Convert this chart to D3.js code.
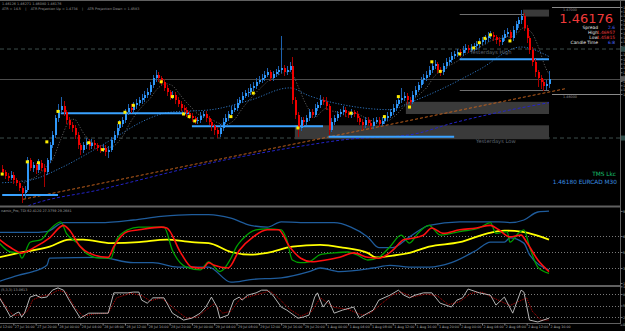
<!DOCTYPE html>
<html>
<head>
<meta charset="utf-8">
<script src="https://cdnjs.cloudflare.com/ajax/libs/d3/7.8.5/d3.min.js"></script>
<style>
html, body { margin: 0; padding: 0; background: #000; overflow: hidden; }
svg { display: block; }
text { font-family: "DejaVu Sans", "Liberation Sans", sans-serif; }
</style>
</head>
<body>
<div id="chart"></div>
<script>
// EURCAD M30 candles (bar 0 = leftmost visible bar, bar 196 = 2 Aug 16:00)
const firstOpen = 1.4514;
const closes = [
  1.4510,1.4506,1.4504,1.4507,1.4501,1.4498,1.4492,1.4486,1.4490,1.4524,
  1.4515,1.4518,1.4513,1.4521,1.4515,1.4510,1.4524,1.4541,1.4553,1.4572,
  1.4582,1.4586,1.4579,1.4570,1.4564,1.4561,1.4553,1.4541,1.4536,1.4541,
  1.4545,1.4540,1.4544,1.4541,1.4538,1.4536,1.4538,1.4533,1.4536,1.4547,
  1.4553,1.4561,1.4566,1.4570,1.4579,1.4584,1.4582,1.4587,1.4590,1.4593,
  1.4595,1.4599,1.4602,1.4610,1.4618,1.4622,1.4618,1.4614,1.4607,1.4602,
  1.4597,1.4599,1.4593,1.4589,1.4584,1.4582,1.4578,1.4575,1.4572,1.4569,
  1.4570,1.4575,1.4577,1.4572,1.4568,1.4563,1.4559,1.4554,1.4561,1.4568,
  1.4572,1.4577,1.4582,1.4584,1.4590,1.4593,1.4598,1.4601,1.4602,1.4607,
  1.4609,1.4614,1.4616,1.4618,1.4622,1.4625,1.4618,1.4623,1.4625,1.4628,
  1.4630,1.4625,1.4628,1.4632,1.4593,1.4576,1.4561,1.4570,1.4568,1.4572,
  1.4579,1.4576,1.4584,1.4587,1.4593,1.4591,1.4586,1.4559,1.4568,1.4572,
  1.4577,1.4579,1.4582,1.4578,1.4576,1.4579,1.4577,1.4572,1.4568,1.4564,
  1.4570,1.4567,1.4563,1.4568,1.4570,1.4566,1.4569,1.4572,1.4575,1.4579,
  1.4584,1.4589,1.4593,1.4595,1.4598,1.4593,1.4591,1.4599,1.4605,1.4610,
  1.4616,1.4618,1.4622,1.4628,1.4632,1.4634,1.4628,1.4625,1.4632,1.4637,
  1.4639,1.4644,1.4646,1.4648,1.4647,1.4651,1.4653,1.4651,1.4654,1.4655,
  1.4657,1.4660,1.4662,1.4664,1.4667,1.4668,1.4665,1.4662,1.4660,1.4664,
  1.4669,1.4671,1.4664,1.4674,1.4680,1.4685,1.4690,1.4676,1.4664,1.4651,
  1.4637,1.4625,1.4618,1.4614,1.4609,1.4612,1.46176
];
const highs = [
  1.4518,1.4513,1.4509,1.4511,1.4510,1.4504,1.4500,1.4494,1.4494,1.4528,
  1.4527,1.4522,1.4521,1.4525,1.4524,1.4519,1.4527,1.4545,1.4558,1.4576,
  1.4588,1.4597,1.4592,1.4582,1.4573,1.4568,1.4564,1.4556,1.4544,1.4545,
  1.4549,1.4548,1.4548,1.4547,1.4544,1.4541,1.4542,1.4541,1.4540,1.4551,
  1.4557,1.4565,1.4570,1.4574,1.4583,1.4589,1.4588,1.4591,1.4594,1.4597,
  1.4600,1.4603,1.4607,1.4614,1.4622,1.4628,1.4625,1.4621,1.4617,1.4610,
  1.4605,1.4603,1.4602,1.4596,1.4592,1.4587,1.4585,1.4581,1.4578,1.4575,
  1.4574,1.4579,1.4581,1.4580,1.4575,1.4571,1.4566,1.4562,1.4565,1.4572,
  1.4577,1.4581,1.4586,1.4589,1.4594,1.4597,1.4602,1.4605,1.4607,1.4611,
  1.4614,1.4618,1.4621,1.4623,1.4626,1.4630,1.4628,1.4627,1.4629,1.4632,
  1.4667,1.4633,1.4632,1.4637,1.4643,1.4596,1.4579,1.4574,1.4574,1.4576,
  1.4583,1.4583,1.4588,1.4591,1.4599,1.4597,1.4596,1.4589,1.4572,1.4576,
  1.4581,1.4583,1.4586,1.4585,1.4581,1.4583,1.4582,1.4580,1.4575,1.4571,
  1.4574,1.4573,1.4570,1.4572,1.4574,1.4573,1.4573,1.4576,1.4579,1.4583,
  1.4588,1.4593,1.4597,1.4607,1.4602,1.4601,1.4597,1.4603,1.4609,1.4614,
  1.4620,1.4623,1.4627,1.4632,1.4636,1.4639,1.4637,1.4631,1.4636,1.4641,
  1.4643,1.4648,1.4650,1.4652,1.4652,1.4655,1.4657,1.4656,1.4658,1.4659,
  1.4661,1.4664,1.4666,1.4668,1.4671,1.4672,1.4671,1.4668,1.4665,1.4668,
  1.4673,1.4676,1.4674,1.4678,1.4684,1.4689,1.4696,1.4693,1.4679,1.4667,
  1.4654,1.4640,1.4628,1.4622,1.4617,1.4616,1.4627
];
const lows = [
  1.4507,1.4502,1.4500,1.4501,1.4497,1.4494,1.4488,1.4475,1.4481,1.4487,
  1.4511,1.4510,1.4508,1.4509,1.4512,1.4493,1.4507,1.4521,1.4538,1.4550,
  1.4568,1.4578,1.4575,1.4566,1.4560,1.4556,1.4548,1.4537,1.4530,1.4532,
  1.4537,1.4536,1.4537,1.4537,1.4534,1.4532,1.4533,1.4529,1.4527,1.4533,
  1.4544,1.4550,1.4557,1.4562,1.4567,1.4576,1.4578,1.4579,1.4583,1.4586,
  1.4589,1.4591,1.4595,1.4599,1.4607,1.4614,1.4614,1.4610,1.4603,1.4598,
  1.4593,1.4594,1.4589,1.4585,1.4580,1.4578,1.4574,1.4571,1.4568,1.4565,
  1.4565,1.4567,1.4572,1.4568,1.4564,1.4558,1.4553,1.4549,1.4551,1.4558,
  1.4565,1.4569,1.4574,1.4579,1.4581,1.4587,1.4590,1.4595,1.4597,1.4599,
  1.4604,1.4606,1.4611,1.4613,1.4615,1.4619,1.4615,1.4615,1.4620,1.4622,
  1.4624,1.4621,1.4622,1.4625,1.4589,1.4571,1.4551,1.4557,1.4563,1.4564,
  1.4569,1.4572,1.4573,1.4580,1.4584,1.4587,1.4582,1.4553,1.4556,1.4564,
  1.4569,1.4573,1.4576,1.4574,1.4572,1.4572,1.4573,1.4568,1.4564,1.4559,
  1.4561,1.4563,1.4559,1.4560,1.4565,1.4562,1.4563,1.4566,1.4569,1.4572,
  1.4576,1.4581,1.4586,1.4590,1.4592,1.4589,1.4587,1.4588,1.4596,1.4602,
  1.4607,1.4612,1.4615,1.4619,1.4624,1.4629,1.4624,1.4621,1.4622,1.4629,
  1.4633,1.4636,1.4640,1.4642,1.4643,1.4644,1.4647,1.4647,1.4648,1.4650,
  1.4651,1.4653,1.4656,1.4658,1.4660,1.4663,1.4661,1.4658,1.4655,1.4656,
  1.4661,1.4665,1.4660,1.4661,1.4670,1.4676,1.4681,1.4672,1.4659,1.4646,
  1.4632,1.4619,1.4608,1.4606,1.4604,1.4605,1.4607
];

// yellow signal dots [bar, price]
const signalDots = [
  [0,1.4508],[9,1.4522],[13,1.4521],[16,1.4545],[20,1.4580],[31,1.4544],[36,1.4536],
  [42,1.4567],[44,1.4579],[47,1.4587],[57,1.4614],[61,1.4597],[65,1.4577],[67,1.4574],
  [69,1.4569],[82,1.4574],[90,1.4601],[106,1.4561],[125,1.4578],[137,1.4574],[142,1.4597],
  [146,1.4585],[154,1.4637],[157,1.4626],[164,1.4646],[169,1.4653],[171,1.4659],
  [173,1.4664],[175,1.4668],[182,1.4661]
];

// moving averages [bar, price]
const maMid = [
  [0,1.4498],[10,1.4501],[21,1.4515],[33,1.4536],[42,1.4553],[50,1.4568],[60,1.4579],
  [75,1.4582],[89,1.4593],[103,1.4607],[110,1.4598],[125,1.4586],[139,1.4582],
  [146,1.4590],[157,1.4605],[171,1.4628],[186,1.4654],[196,1.4643]
];
const maSlow = [
  [6,1.4467],[9,1.4471],[35,1.4490],[75,1.4521],[107,1.4540],[124,1.4548],
  [146,1.4553],[162,1.4567],[178,1.4579],[196,1.4590]
];
const trendLine = [[7.5,1.4479],[201.7,1.4606]];

// horizontal levels [startBar, endBar, price]
const dayLevels = [
  [0,20,1.4484],[21,67,1.4578],[68,115,1.4563],[117,162,1.4551],[164,196,1.4640]
];
// gray zones [startBar, endBar, top, bottom]
const zones = [
  [144.7,196,1.4591,1.4577],[104.9,196,1.4564,1.4548],[186.7,196,1.4697,1.4689]
];
const pivotLevels = [1.46517, 1.45494];
const bid = 1.46176;

// TDI sub window [bar, value]
const tdiUpper = [
  [-1,72],[10,72],[16,73],[22,83],[35,83],[47,86],[57,90],[68,92],[74,92],[82,88],[89,80],
  [95,78],[100,84],[107,83],[119,83],[125,78],[131,67],[135,55],[140,55],[146,67],[153,80],
  [164,84],[178,84],[182,83],[187,86],[192,95],[196,96]
];
const tdiLower = [
  [-1,17],[6,24],[11,28],[16,35],[17,43],[35,44],[47,38],[54,38],[63,33],[74,33],[82,16],
  [89,19],[100,21],[110,28],[114,32],[121,28],[133,32],[139,35],[146,33],[153,33],[161,38],
  [170,52],[175,61],[180,61],[182,66],[187,60],[189,47],[196,30]
];
const tdiMid = [
  [-1,44],[6,49],[17,56],[24,64],[29,64],[39,60],[49,61],[59,64],[68,61],[74,60],[82,50],
  [89,47],[95,49],[104,56],[114,58],[122,55],[131,49],[134,44],[140,46],[146,49],[153,56],
  [164,61],[174,71],[180,74],[186,73],[189,71],[196,64]
];
const tdiRsi = [
  [-1,60],[3,50],[6,49],[7,43],[10,61],[14,64],[17,75],[21,84],[23,71],[27,60],[30,49],
  [35,43],[39,43],[41,64],[45,75],[49,78],[54,78],[58,78],[61,52],[66,33],[71,30],[74,39],
  [78,28],[82,43],[84,56],[86,64],[91,75],[95,76],[100,75],[102,64],[104,41],[107,38],
  [110,39],[114,47],[119,49],[124,50],[127,47],[131,41],[135,44],[139,56],[143,69],
  [146,60],[149,71],[153,80],[157,69],[161,71],[164,73],[171,77],[175,83],[177,71],
  [181,73],[182,61],[185,71],[187,75],[189,56],[192,33],[196,26]
];
const tdiSignal = [
  [-1,64],[3,55],[7,49],[12,56],[17,66],[22,80],[24,75],[28,56],[31,49],[38,44],[40,56],
  [45,73],[49,75],[57,78],[59,77],[64,49],[68,33],[72,32],[74,38],[76,35],[81,32],[85,52],
  [90,67],[95,75],[99,75],[103,56],[107,43],[111,39],[116,41],[121,44],[126,49],[131,44],
  [135,43],[140,52],[144,64],[146,65],[151,69],[154,77],[158,71],[164,75],[170,77],
  [175,80],[178,75],[182,67],[186,69],[188,61],[192,41],[196,28]
];
const tdiLevels = [68, 50, 32];

// stochastic sub window [bar, value]
const stochMain = [
  [-1,70],[1,46],[3,20],[5,30],[6,33],[7,20],[8,30],[10,72],[12,77],[14,70],[16,72],[18,90],
  [20,96],[22,90],[24,64],[28,17],[31,30],[35,30],[38,30],[40,83],[45,83],[47,85],[49,85],
  [50,64],[52,56],[54,70],[58,70],[61,30],[65,12],[68,17],[71,30],[73,46],[75,72],[77,46],
  [78,17],[81,25],[83,64],[85,72],[86,64],[88,77],[91,83],[93,90],[95,90],[97,77],[100,46],
  [102,38],[106,17],[108,20],[110,25],[112,72],[113,83],[115,46],[117,64],[119,30],[122,38],
  [126,46],[128,17],[131,30],[133,38],[135,64],[139,77],[142,90],[144,77],[146,70],[148,77],
  [151,83],[154,83],[157,56],[161,46],[163,64],[165,70],[167,93],[171,83],[175,77],[177,51],
  [180,72],[183,30],[186,90],[187,85],[189,12],[192,7],[194,12],[196,17]
];
const stochSignal = [
  [-1,72],[2,40],[4,24],[7,26],[9,35],[11,65],[14,74],[17,78],[20,90],[23,84],[26,45],[29,22],
  [33,28],[38,30],[41,70],[46,82],[50,76],[53,62],[57,70],[62,40],[66,17],[70,20],[73,38],
  [76,55],[79,30],[82,35],[85,65],[88,72],[92,80],[96,88],[99,70],[103,40],[107,22],[111,35],
  [114,70],[116,60],[119,45],[124,40],[129,25],[132,30],[136,55],[140,78],[143,85],[147,72],
  [152,80],[156,75],[160,52],[164,60],[168,82],[172,85],[176,70],[179,60],[182,50],[185,60],
  [188,70],[190,35],[193,12],[196,12]
];
const stochLevels = [80, 50, 20];

// time axis
const timeLabelBars = [-4,4,12,20,28,36,44,52,60,68,76,84,92,100,108,116,124,132,140,148,156,164,172,180,188,196];
const timeLabels = ["27 Jul 12:00","27 Jul 16:00","27 Jul 20:00","28 Jul 00:00","28 Jul 04:00","28 Jul 08:00",
  "28 Jul 12:00","28 Jul 16:00","28 Jul 20:00","29 Jul 00:00","29 Jul 04:00","29 Jul 08:00","29 Jul 12:00",
  "29 Jul 16:00","29 Jul 20:00","1 Aug 00:00","1 Aug 04:00","1 Aug 08:00","1 Aug 12:00","1 Aug 16:00",
  "1 Aug 20:00","2 Aug 00:00","2 Aug 04:00","2 Aug 08:00","2 Aug 12:00","2 Aug 16:00"];

const W = 625, H = 331, axisX = 620;

const svg = d3.select("#chart").append("svg")
  .attr("width", W).attr("height", H)
  .style("background", "#000");

const defs = svg.append("defs");
[["clipMain", 2, 204], ["clipTdi", 208, 77], ["clipSto", 287, 36]].forEach(([id, y, h]) => {
  defs.append("clipPath").attr("id", id).append("rect")
    .attr("x", 0).attr("y", y).attr("width", axisX).attr("height", h);
});

// scales
const x = d3.scaleLinear().domain([0, 196]).range([2.2, 549]);
const yMain = d3.scaleLinear().domain([1.46, 1.47]).range([94, 7]);
const yTdi = d3.scaleLinear().domain([32, 68]).range([268, 236]);
const ySto = d3.scaleLinear().domain([20, 80]).range([317, 294]);

// ---------- main window ----------
const main = svg.append("g").attr("clip-path", "url(#clipMain)");

// pivot dashed lines + bid line
main.selectAll(".pivot").data(pivotLevels).enter().append("line")
  .attr("x1", 0).attr("x2", axisX)
  .attr("y1", d => yMain(d)).attr("y2", d => yMain(d))
  .attr("stroke", "#3c4e4c").attr("stroke-dasharray", "4,3");
main.append("line")
  .attr("x1", 0).attr("x2", axisX)
  .attr("y1", Math.round(yMain(bid)) + 0.5).attr("y2", Math.round(yMain(bid)) + 0.5)
  .attr("stroke", "#4c4c4c");

// zones
main.selectAll(".zone").data(zones).enter().append("rect")
  .attr("x", d => x(d[0])).attr("width", d => x(d[1]) - x(d[0]))
  .attr("y", d => yMain(d[2])).attr("height", d => yMain(d[3]) - yMain(d[2]))
  .attr("fill", "#3a3a3a");

// thin gray level lines
[[164, 187, 1.4692], [164, 196, 1.46046]].forEach(d => {
  main.append("line")
    .attr("x1", x(d[0])).attr("x2", x(d[1]))
    .attr("y1", Math.round(yMain(d[2])) + 0.5).attr("y2", Math.round(yMain(d[2])) + 0.5)
    .attr("stroke", "#707070");
});
[1.47, 1.46].forEach(p => {
  main.append("line")
    .attr("x1", 552).attr("x2", axisX)
    .attr("y1", Math.round(yMain(p)) + 0.5).attr("y2", Math.round(yMain(p)) + 0.5)
    .attr("stroke", "#8a8a8a");
  main.append("text")
    .attr("x", 563).attr("y", yMain(p) + 3.6)
    .attr("font-size", 3.4).attr("fill", "#909090")
    .text(p.toFixed(5));
});

// moving averages
const fastMa = closes.map((c, i) => i < 7 ? null : [i, d3.mean(closes.slice(i - 7, i + 1))]).filter(d => d);
const knotLine = (ys, curve) => d3.line().x(d => x(d[0])).y(d => ys(d[1])).curve(curve || d3.curveMonotoneX);

main.append("path").datum(maSlow).attr("d", knotLine(yMain))
  .attr("fill", "none").attr("stroke", "#2424c8").attr("stroke-dasharray", "3,2");
main.append("path").datum(trendLine).attr("d", knotLine(yMain, d3.curveLinear))
  .attr("fill", "none").attr("stroke", "#c0601c").attr("stroke-dasharray", "3,2");
main.append("path").datum(maMid).attr("d", knotLine(yMain))
  .attr("fill", "none").attr("stroke", "#2c70b8").attr("stroke-dasharray", "1.2,1.6");
main.append("path").datum(fastMa).attr("d", knotLine(yMain))
  .attr("fill", "none").attr("stroke", "#5a5a5a").attr("stroke-dasharray", "1.2,1.6");

// day high / low levels
main.selectAll(".lvl").data(dayLevels).enter().append("line")
  .attr("x1", d => x(d[0])).attr("x2", d => x(d[1]))
  .attr("y1", d => yMain(d[2])).attr("y2", d => yMain(d[2]))
  .attr("stroke", "#3aa2ff").attr("stroke-width", 2);

// candles
const candles = closes.map((c, i) => ({
  i, o: i ? closes[i - 1] : firstOpen, c, h: highs[i], l: lows[i]
}));
const cg = main.append("g").attr("shape-rendering", "crispEdges");
cg.selectAll(".wick").data(candles).enter().append("line")
  .attr("x1", d => Math.round(x(d.i)) + 0.5).attr("x2", d => Math.round(x(d.i)) + 0.5)
  .attr("y1", d => yMain(d.h)).attr("y2", d => yMain(d.l))
  .attr("stroke", d => d.c >= d.o ? "#1d62b0" : "#a80000");
cg.selectAll(".body").data(candles).enter().append("rect")
  .attr("x", d => Math.round(x(d.i)) - 0.5).attr("width", 2)
  .attr("y", d => yMain(Math.max(d.o, d.c)))
  .attr("height", d => Math.max(1, Math.abs(yMain(d.o) - yMain(d.c))))
  .attr("fill", d => d.c >= d.o ? "#2f98f8" : "#f00000");

// signal dots
main.selectAll(".dot").data(signalDots).enter().append("rect")
  .attr("x", d => x(d[0]) - 1.5).attr("y", d => yMain(d[1]) - 1.5)
  .attr("width", 3).attr("height", 3)
  .attr("fill", "#ffee00");

// labels inside main window
main.append("text").attr("x", 470).attr("y", 53.5)
  .attr("font-size", 5.2).attr("fill", "#5e6672").text("Yesterdays High");
main.append("text").attr("x", 476).attr("y", 143)
  .attr("font-size", 5.2).attr("fill", "#5e6672").text("Yesterdays Low");

const hdr = svg.append("g").attr("fill", "#9a9a9a").attr("font-size", 3.4);
hdr.append("text").attr("x", 2).attr("y", 5).text("1.46126 1.46271 1.46080 1.46176");
hdr.append("text").attr("x", 2).attr("y", 9.5)
  .attr("xml:space", "preserve")
  .text("ATR = 14.5    |    ATR Projection Up = 1.4734    |    ATR Projection Down = 1.4583");

// info box
svg.append("text").attr("x", 613).attr("y", 22.5).attr("text-anchor", "end")
  .attr("font-family", "Liberation Sans, Arial, sans-serif")
  .attr("font-size", 13).attr("fill", "#f03a3a").text("1.46176");
const info = [["Spread", "2.6", "#4d6cff", 29], ["High", "1.46957", "#f03a3a", 34],
  ["Low", "1.45815", "#f03a3a", 39], ["Candle Time", "6:8", "#4d6cff", 44]];
info.forEach(([k, v, col, yy]) => {
  svg.append("text").attr("x", 598).attr("y", yy).attr("text-anchor", "end")
    .attr("font-size", 4.4).attr("fill", "#e8e8e8").text(k);
  svg.append("text").attr("x", 615).attr("y", yy).attr("text-anchor", "end")
    .attr("font-size", 4.4).attr("fill", col).text(v);
});
svg.append("text").attr("x", 616).attr("y", 176).attr("text-anchor", "end")
  .attr("font-family", "DejaVu Sans Mono, monospace")
  .attr("font-size", 5.8).attr("fill", "#18c070").text("TMS Lkc");
svg.append("text").attr("x", 617).attr("y", 184).attr("text-anchor", "end")
  .attr("font-family", "DejaVu Sans Mono, monospace")
  .attr("font-size", 5.8).attr("fill", "#3a8ee0").text("1.46180 EURCAD M30");

// ---------- TDI window ----------
const tdi = svg.append("g").attr("clip-path", "url(#clipTdi)");
tdi.selectAll(".lv").data(tdiLevels).enter().append("line")
  .attr("x1", 0).attr("x2", axisX)
  .attr("y1", d => Math.round(yTdi(d)) + 0.5).attr("y2", d => Math.round(yTdi(d)) + 0.5)
  .attr("stroke", "#7a7a7a").attr("stroke-dasharray", "1,2");
[[tdiUpper, "#1f5c9c", 1.3], [tdiLower, "#1f5c9c", 1.3], [tdiMid, "#ffff00", 1.8],
 [tdiRsi, "#00a000", 1.3], [tdiSignal, "#ff1010", 1.6]].forEach(([data, col, w]) => {
  tdi.append("path").datum(data).attr("d", knotLine(yTdi))
    .attr("fill", "none").attr("stroke", col).attr("stroke-width", w);
});
svg.append("text").attr("x", 1).attr("y", 212)
  .attr("font-size", 3.4).attr("fill", "#a0a0a0")
  .text("namic_Pro, TDI 62.4120 27.3759 29.2681");

// ---------- stochastic window ----------
const sto = svg.append("g").attr("clip-path", "url(#clipSto)");
sto.selectAll(".lv").data(stochLevels).enter().append("line")
  .attr("x1", 0).attr("x2", axisX)
  .attr("y1", d => Math.round(ySto(d)) + 0.5).attr("y2", d => Math.round(ySto(d)) + 0.5)
  .attr("stroke", "#7a7a7a").attr("stroke-dasharray", "1,2");
sto.append("path").datum(stochSignal).attr("d", knotLine(ySto, d3.curveLinear))
  .attr("fill", "none").attr("stroke", "#c00000").attr("stroke-dasharray", "1,1");
sto.append("path").datum(stochMain).attr("d", knotLine(ySto, d3.curveLinear))
  .attr("fill", "none").attr("stroke", "#c8c8c8").attr("stroke-width", 0.9);
svg.append("text").attr("x", 1).attr("y", 290.5)
  .attr("font-size", 3.4).attr("fill", "#a0a0a0").text("(5,3,3) 13.0613");

// ---------- frame ----------
const frame = svg.append("g").attr("stroke", "#606060");
frame.append("line").attr("x1", 0).attr("x2", W).attr("y1", 0.5).attr("y2", 0.5);
frame.append("line").attr("x1", 0).attr("x2", axisX).attr("y1", 206.5).attr("y2", 206.5).attr("stroke-width", 2);
frame.append("line").attr("x1", 0).attr("x2", axisX).attr("y1", 286).attr("y2", 286).attr("stroke-width", 2);
frame.append("line").attr("x1", 0).attr("x2", axisX).attr("y1", 323.5).attr("y2", 323.5);
frame.append("line").attr("x1", axisX + 0.5).attr("x2", axisX + 0.5).attr("y1", 0).attr("y2", 324);

// right axes (labels run off the right edge, as in the source window)
function rightAxis(scale, ticks, fmt) {
  const g = svg.append("g").attr("transform", `translate(${axisX + 0.5},0)`)
    .call(d3.axisRight(scale).tickValues(ticks).tickSize(2).tickFormat(fmt));
  g.select(".domain").remove();
  g.selectAll("line").attr("stroke", "#707070");
  g.selectAll("text").attr("fill", "#b0b0b0").attr("font-size", 3.4).attr("x", 2.5);
}
rightAxis(yMain, yMain.ticks(24).filter(p => yMain(p) > 3 && yMain(p) < 204), d3.format(".4f"));
rightAxis(yTdi, [96.2, 68, 50, 32, 15.1], d3.format(".1f"));
rightAxis(ySto, [100, 80, 50, 20, 0], d3.format("d"));

// axis price markers
[[pivotLevels[0], "#2e4c48"], [bid, "#5a5a5a"], [pivotLevels[1], "#2e4c48"]].forEach(([p, col]) => {
  svg.append("rect").attr("x", axisX + 1).attr("y", yMain(p) - 2.5)
    .attr("width", 5).attr("height", 5).attr("fill", col);
});

// time axis
const tAxis = svg.append("g").attr("transform", "translate(0,323.5)")
  .call(d3.axisBottom(x).tickValues(timeLabelBars).tickSize(2)
    .tickFormat((d, i) => timeLabels[i]));
tAxis.select(".domain").remove();
tAxis.selectAll("line").attr("stroke", "#808080");
tAxis.selectAll("text").attr("fill", "#b0b0b0").attr("font-size", 3.3)
  .attr("text-anchor", "start").attr("dx", 1).attr("y", 2.2);
</script>
</body>
</html>
